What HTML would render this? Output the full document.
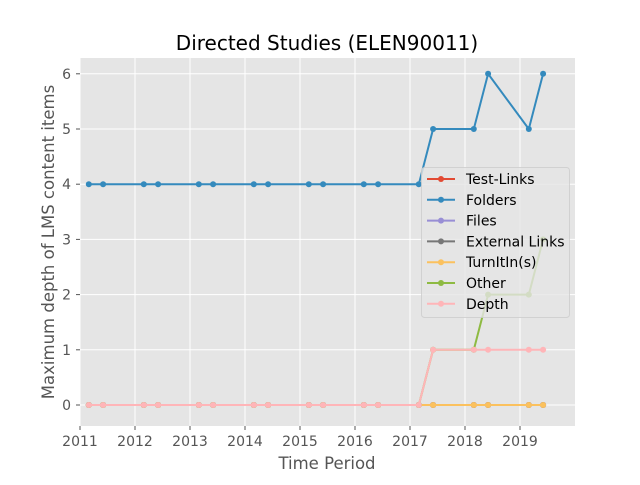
<!DOCTYPE html>
<html><head><meta charset="utf-8"><style>
body{margin:0;background:#fff;}
svg text{font-family:"DejaVu Sans","Liberation Sans",sans-serif;}
</style></head><body>
<svg id="chart" width="640" height="480" viewBox="0 0 640 480">
<rect x="0" y="0" width="640" height="480" fill="#fff"/>
<rect x="80" y="58" width="495" height="368" fill="#e5e5e5"/>
<g id="grid"></g><g id="series"></g><g id="ticks"></g>
<text x="327" y="50" text-anchor="middle" font-size="20" fill="#000">Directed Studies (ELEN90011)</text>
<text x="327" y="469" text-anchor="middle" font-size="16.5" fill="#555">Time Period</text>
<text transform="translate(54,242) rotate(-90)" text-anchor="middle" font-size="16.5" fill="#555">Maximum depth of LMS content items</text>
<g id="legend"></g>
</svg>
<script>
const times=[2011.16,2011.42,2012.16,2012.42,2013.16,2013.42,2014.16,2014.42,2015.16,2015.42,2016.16,2016.42,2017.16,2017.42,2018.16,2018.42,2019.16,2019.42];
const seriesNames=["Test-Links","Folders","Files","External Links","TurnItIn(s)","Other","Depth"];
const seriesColors=["#E24A33","#348ABD","#988ED5","#777777","#FBC15E","#8EBA42","#FFB5B8"];
const testLinks=[0,0,0,0,0,0,0,0,0,0,0,0,0,0,0,0,0,0];
const folders=[4,4,4,4,4,4,4,4,4,4,4,4,4,5,5,6,5,6];
const files=[0,0,0,0,0,0,0,0,0,0,0,0,0,0,0,0,0,0];
const extLinks=[0,0,0,0,0,0,0,0,0,0,0,0,0,0,0,0,0,0];
const turnitin=[0,0,0,0,0,0,0,0,0,0,0,0,0,0,0,0,0,0];
const other=[0,0,0,0,0,0,0,0,0,0,0,0,0,1,1,2,2,3];
const depth=[0,0,0,0,0,0,0,0,0,0,0,0,0,1,1,1,1,1];
const xTicks=[2011,2012,2013,2014,2015,2016,2017,2018,2019];
const yTicks=[0,1,2,3,4,5,6];
const NS="http://www.w3.org/2000/svg";
const X=v=>80+(v-2011)*55;
const Y=v=>405-v*55.2;
function mk(t,a,p){const e=document.createElementNS(NS,t);for(const k in a)e.setAttribute(k,a[k]);p.appendChild(e);return e;}
const grid=document.getElementById('grid'),tk=document.getElementById('ticks');
xTicks.forEach(t=>{
 const l=mk('line',{x1:X(t),x2:X(t),y1:58,y2:426,stroke:'#fff','stroke-width':1},grid);
 
 
 const m=mk('line',{x1:X(t),x2:X(t),y1:426,y2:430,stroke:'#555'},tk);
 
 
 const tx=mk('text',{x:X(t),y:446,'text-anchor':'middle','font-size':14,fill:'#555'},tk);tx.textContent=t;
 
 
});
yTicks.forEach(t=>{
 const l=mk('line',{x1:80,x2:575,y1:Y(t),y2:Y(t),stroke:'#fff','stroke-width':1},grid);
 
 
 const m=mk('line',{x1:76,x2:80,y1:Y(t),y2:Y(t),stroke:'#555'},tk);
 
 
 const tx=mk('text',{x:71,y:Y(t)+5,'text-anchor':'end','font-size':14,fill:'#555'},tk);tx.textContent=t;
 
 
});
const data=[testLinks,folders,files,extLinks,turnitin,other,depth];
const sg=document.getElementById('series');
data.forEach((d,i)=>{
 const g=mk('g',{},sg);
 
 
 mk('polyline',{points:d.map((v,j)=>X(times[j])+','+Y(v)).join(' '),fill:'none',stroke:seriesColors[i],'stroke-width':2},g);
 d.forEach((v,j)=>{const c=mk('circle',{cx:X(times[j]),cy:Y(v),r:3,fill:seriesColors[i]},g);
  
  });
});
const lg=document.getElementById('legend');


mk('rect',{x:421.5,y:167.5,width:148,height:150,rx:3,fill:'#e5e5e5','fill-opacity':0.8,stroke:'#ccc','stroke-opacity':0.8},lg);
seriesNames.forEach((n,i)=>{
 const y=179+i*20.8;
 const g=mk('g',{},lg);
 
 
 mk('line',{x1:427,x2:455,y1:y,y2:y,stroke:seriesColors[i],'stroke-width':2},g);
 mk('circle',{cx:441,cy:y,r:3,fill:seriesColors[i]},g);
 const t=mk('text',{x:466,y:y+5,'font-size':14,fill:'#000'},g);t.textContent=n;
});
</script>
</body></html>
